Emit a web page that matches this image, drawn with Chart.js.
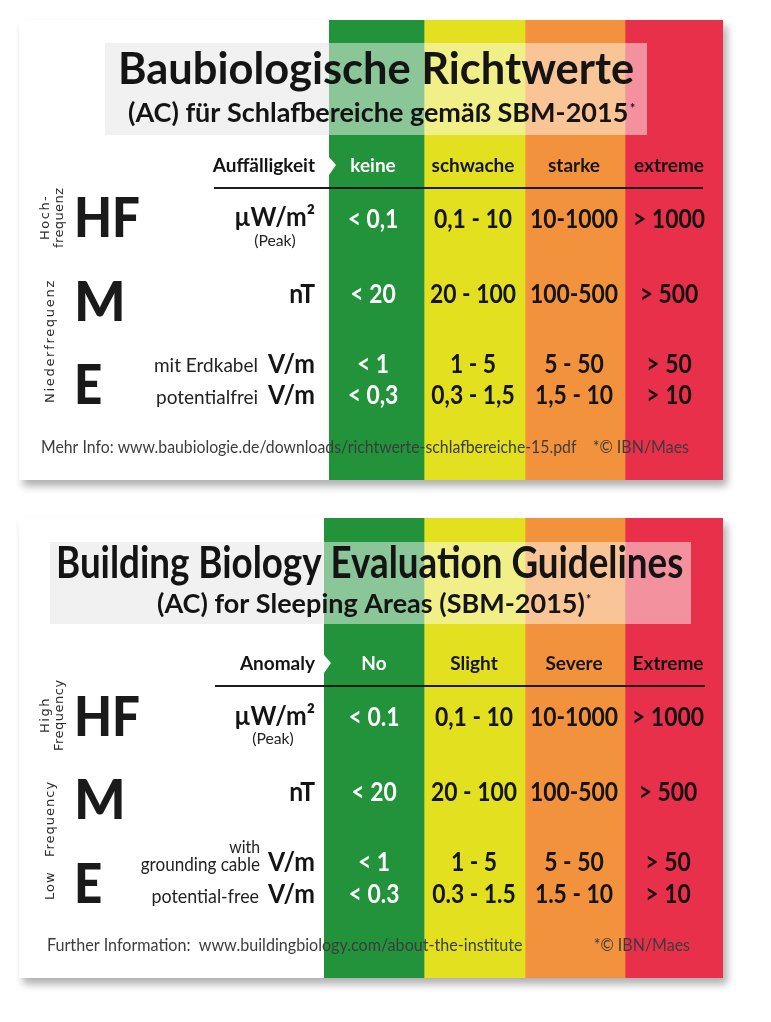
<!DOCTYPE html>
<html lang="de">

<head>
    <meta charset="UTF-8">
    <title>Baubiologische Richtwerte</title>
    <script src="https://cdn.jsdelivr.net/npm/chart.js"></script>
    <style>
        body {
            margin: 0;
            background-color: #ffffff;
        }

        .card {
            position: absolute;
            left: 19px;
            width: 704px;
            height: 460px;
            background-color: #ffffff;
            box-shadow: 4px 6px 8px rgba(0, 0, 0, 0.32);
        }
    </style>
</head>

<body>
    <div class="card" style="top: 20px"><canvas id="chartDe" width="704" height="460"></canvas></div>
    <div class="card" style="top: 518px"><canvas id="chartEn" width="704" height="460"></canvas></div>

    <script>
        // column widths, one series per class
        const bandSeries = ['green', 'yellow', 'orange', 'red'];
        const bandColors = ['#22933b', '#e2e01f', '#f3923c', '#e8304a'];
        const bandWidthsDe = [95, 101, 100, 98];
        const bandWidthsEn = [100, 101, 100, 98];

        // table text, German card
        const classesDe = ['keine', 'schwache', 'starke', 'extreme'];
        const hfValuesDe = ['< 0,1', '0,1 - 10', '10-1000', '> 1000'];
        const mValuesDe = ['< 20', '20 - 100', '100-500', '> 500'];
        const eCableValuesDe = ['< 1', '1 - 5', '5 - 50', '> 50'];
        const eFreeValuesDe = ['< 0,3', '0,3 - 1,5', '1,5 - 10', '> 10'];

        // table text, English card
        const classesEn = ['No', 'Slight', 'Severe', 'Extreme'];
        const hfValuesEn = ['< 0.1', '0,1 - 10', '10-1000', '> 1000'];
        const mValuesEn = ['< 20', '20 - 100', '100-500', '> 500'];
        const eCableValuesEn = ['< 1', '1 - 5', '5 - 50', '> 50'];
        const eFreeValuesEn = ['< 0.3', '0.3 - 1.5', '1.5 - 10', '> 10'];

        const FONT = 'Lato, sans-serif';
        const DARK = '#141414';

        // x is condensed because Lato runs wider than the face in the picture
        function put(ctx, text, x, y, font, color, align, squeeze) {
            ctx.save();
            ctx.translate(x, y);
            ctx.scale(squeeze || 0.88, 1);
            ctx.font = font;
            ctx.fillStyle = color;
            ctx.textAlign = align || 'left';
            ctx.textBaseline = 'alphabetic';
            ctx.fillText(text, 0, 0);
            ctx.restore();
        }

        function putVertical(ctx, text, x, y, spacing) {
            ctx.save();
            ctx.translate(x, y);
            ctx.rotate(-Math.PI / 2);
            ctx.font = '13px "DejaVu Sans"';
            ctx.letterSpacing = spacing + 'px';
            ctx.fillStyle = '#2a2a2a';
            ctx.textAlign = 'left';
            ctx.textBaseline = 'alphabetic';
            ctx.fillText(text, 0, 0);
            ctx.restore();
        }

        function tablePlugin(card) {
            return {
                id: 'tableText',
                afterDatasetsDraw(chart) {
                    const ctx = chart.ctx;
                    const xScale = chart.scales.x;
                    const colX = card.centers.map(v => xScale.getPixelForValue(v) + card.left);
                    const edge = xScale.getPixelForValue(0) + card.left;

                    ctx.save();
                    ctx.translate(-card.left, -card.top);

                    // title panel: grey on the white part, veil over the bands
                    const b = card.panel;
                    ctx.fillStyle = '#f1f1f1';
                    ctx.fillRect(b.x, b.y, edge - b.x, b.h);
                    ctx.fillStyle = 'rgba(255, 255, 255, 0.47)';
                    ctx.fillRect(edge, b.y, b.x + b.w - edge, b.h);
                    put(ctx, card.title, card.titleX, card.titleY, '700 43px ' + FONT, DARK, 'left', card.titleSqueeze);
                    put(ctx, card.subtitle, card.subX, card.subY, '700 27px ' + FONT, DARK, 'left', card.subSqueeze);
                    put(ctx, '*', card.starX, card.subY - 9, '700 14px ' + FONT, DARK);

                    // notch between header label and first band
                    ctx.fillStyle = '#ffffff';
                    ctx.beginPath();
                    ctx.moveTo(edge, card.headY - 15);
                    ctx.lineTo(edge + 7, card.headY - 7);
                    ctx.lineTo(edge, card.headY + 3);
                    ctx.fill();

                    // header row and rule
                    put(ctx, card.headLabel, 315, card.headY, '700 19px ' + FONT, DARK, 'right', 1);
                    card.classes.forEach((t, i) => {
                        put(ctx, t, colX[i], card.headY, '700 19px ' + FONT, i === 0 ? '#ffffff' : DARK, 'center', 1);
                    });
                    ctx.fillStyle = '#1c1c1c';
                    ctx.fillRect(card.ruleX, card.ruleY, card.ruleW, 2);

                    // value rows
                    card.rows.forEach(r => {
                        r.values.forEach((t, i) => {
                            put(ctx, t, colX[i], r.y, '700 26px ' + FONT, i === 0 ? '#ffffff' : DARK, 'center');
                        });
                        put(ctx, r.unit, 315, r.y - (r.unitLift || 0), '700 26px ' + FONT, DARK, 'right', 0.95);
                    });

                    // big field letters
                    card.letters.forEach(l => {
                        put(ctx, l.t, 74, l.y, '900 56px ' + FONT, '#1a1a1a', 'left', l.squeeze);
                    });

                    card.notes.forEach(n => {
                        put(ctx, n.t, n.x, n.y, (n.size || 18) + 'px ' + FONT, n.color || '#222222', n.align || 'right', n.squeeze);
                    });
                    card.vertical.forEach(v => putVertical(ctx, v.t, v.x, v.y, v.s));

                    ctx.restore();
                }
            };
        }

        function drawCard(canvasId, widths, card) {
            new Chart(document.getElementById(canvasId), {
                type: 'bar',
                data: {
                    labels: ['Richtwert'],
                    datasets: bandSeries.map((name, i) => ({
                        label: name,
                        data: [widths[i]],
                        backgroundColor: bandColors[i],
                        borderWidth: 0,
                        barPercentage: 1,
                        categoryPercentage: 1
                    }))
                },
                options: {
                    indexAxis: 'y',
                    responsive: false,
                    animation: false,
                    layout: { padding: { left: card.bandLeft - card.left } },
                    plugins: { legend: { display: false }, tooltip: { enabled: false } },
                    scales: {
                        x: { display: false, stacked: true, min: 0, max: widths.reduce((a, b) => a + b, 0) },
                        y: { display: false, stacked: true }
                    }
                },
                plugins: [tablePlugin(card)]
            });
        }

        drawCard('chartDe', bandWidthsDe, {
            left: 19, top: 20, bandLeft: 329,
            centers: [44, 144, 245, 340],
            panel: { x: 105, y: 43, w: 542, h: 92 },
            title: 'Baubiologische Richtwerte', titleX: 118, titleY: 84, titleSqueeze: 1.01,
            subtitle: '(AC) für Schlafbereiche gemäß SBM-2015', subX: 128, subY: 122, subSqueeze: 1, starX: 630,
            headLabel: 'Auffälligkeit', headY: 172,
            classes: classesDe,
            ruleX: 214, ruleY: 187, ruleW: 489,
            rows: [
                { unit: 'µW/m²', y: 228, values: hfValuesDe, unitLift: 2 },
                { unit: 'nT', y: 303, values: mValuesDe },
                { unit: 'V/m', y: 373, values: eCableValuesDe },
                { unit: 'V/m', y: 404, values: eFreeValuesDe }
            ],
            letters: [
                { t: 'HF', y: 237 },
                { t: 'M', y: 321, squeeze: 0.97 },
                { t: 'E', y: 404 }
            ],
            notes: [
                { t: '(Peak)', x: 275, y: 246, size: 15, align: 'center', squeeze: 1.05 },
                { t: 'mit Erdkabel', x: 258, y: 372, size: 19, squeeze: 1 },
                { t: 'potentialfrei', x: 258, y: 404, size: 19, squeeze: 1 },
                { t: 'Mehr Info: www.baubiologie.de/downloads/richtwerte-schlafbereiche-15.pdf', x: 41, y: 453, size: 17, color: '#3c3c3c', align: 'left', squeeze: 0.93 },
                { t: '*© IBN/Maes', x: 689, y: 453, size: 17, color: '#3c3c3c', squeeze: 0.94 }
            ],
            vertical: [
                { t: 'Hoch-', x: 49, y: 240, s: 1.5 },
                { t: 'frequenz', x: 63, y: 248, s: 0.4 },
                { t: 'Niederfrequenz', x: 54, y: 403, s: 1.7 }
            ]
        });

        drawCard('chartEn', bandWidthsEn, {
            left: 19, top: 518, bandLeft: 324,
            centers: [50, 150, 250, 344],
            panel: { x: 50, y: 542, w: 641, h: 82 },
            title: 'Building Biology Evaluation Guidelines', titleX: 56, titleY: 578, titleSqueeze: 0.855,
            subtitle: '(AC) for Sleeping Areas (SBM-2015)', subX: 157, subY: 613, subSqueeze: 1, starX: 586,
            headLabel: 'Anomaly', headY: 670,
            classes: classesEn,
            ruleX: 215, ruleY: 685, ruleW: 490,
            rows: [
                { unit: 'µW/m²', y: 726, values: hfValuesEn, unitLift: 1 },
                { unit: 'nT', y: 801, values: mValuesEn },
                { unit: 'V/m', y: 871, values: eCableValuesEn },
                { unit: 'V/m', y: 903, values: eFreeValuesEn }
            ],
            letters: [
                { t: 'HF', y: 736 },
                { t: 'M', y: 819, squeeze: 0.97 },
                { t: 'E', y: 903 }
            ],
            notes: [
                { t: '(Peak)', x: 273, y: 744, size: 15, align: 'center', squeeze: 1.05 },
                { t: 'with', x: 260, y: 853, size: 18 },
                { t: 'grounding cable', x: 260, y: 871, size: 19, squeeze: 0.9 },
                { t: 'potential-free', x: 259, y: 903, size: 19, squeeze: 0.94 },
                { t: 'Further Information:  www.buildingbiology.com/about-the-institute', x: 47, y: 951, size: 17, color: '#3c3c3c', align: 'left', squeeze: 0.948 },
                { t: '*© IBN/Maes', x: 690, y: 951, size: 17, color: '#3c3c3c', squeeze: 0.94 }
            ],
            vertical: [
                { t: 'High', x: 49, y: 733, s: 1.5 },
                { t: 'Frequency', x: 63, y: 751, s: 0.5 },
                { t: 'Low', x: 54, y: 900, s: 1 },
                { t: 'Frequency', x: 54, y: 857, s: 1 }
            ]
        });
    </script>
</body>

</html>
